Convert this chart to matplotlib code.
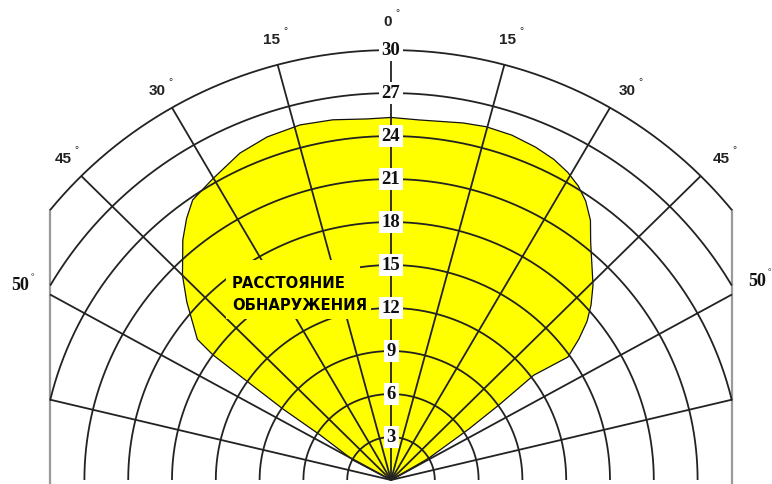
import numpy as np
import matplotlib
matplotlib.use("Agg")
import matplotlib.pyplot as plt
from matplotlib.patches import Polygon, Rectangle

# ---- data ----
ring_values = [3, 6, 9, 12, 15, 18, 21, 24, 27, 30]
ring_labels = ["3", "6", "9", "12", "15", "18", "21", "24", "27", "30"]
spoke_angles = [-76.5, -61, -45, -30, -15, 0, 15, 30, 45, 61, 76.5]
angle_labels = ["0", "15", "30", "45", "15", "30", "45"]
side_labels = ["50", "50"]
caption_lines = ["РАССТОЯНИЕ", "ОБНАРУЖЕНИЯ"]

# detection zone boundary (angle from axis in degrees, range)
zone_angle = [0, -62, -57.1, -56.2, -55.1, -54.4, -53.5, -48.4, -45.0, -40.4,
              -37.5, -34.8, -30.2, -24.4, -19.5, -14.1, -9.0, -3.7, 0.0, 4.4,
              11.2, 14.8, 19.0, 23.1, 26.5, 29.4, 32.0, 34.4, 37.0, 39.5,
              45.5, 48.3, 50.5, 52.6, 54.7, 53.2, 54.7, 56.3, 59.5]
zone_range = [0, 2.9, 5.8, 8.9, 11.9, 15.0, 16.5, 18.7, 20.2, 22.0,
              23.0, 23.8, 24.3, 25.05, 25.4, 25.55, 25.45, 25.25, 25.3, 25.2,
              25.4, 25.5, 25.45, 25.25, 25.0, 24.65, 24.2, 23.6, 22.7, 21.5,
              19.4, 18.35, 17.4, 16.2, 14.85, 12.2, 9.05, 6.4, 3.0]

# ---- geometry of the drawing ----
XS, YS = 14.6, 14.33          # pixels per unit
OX, OY = 391, 480             # origin in pixels
XB = 341 / XS                 # side border
R_MAX = 30

def px(x, y):
    return (x - OX) / XS, (OY - y) / YS

fig = plt.figure(figsize=(7.72, 4.84), dpi=100)
ax = fig.add_axes([0, 0, 1, 1])
ax.set_xlim(-OX / XS, (772 - OX) / XS)
ax.set_ylim(-(484 - OY) / YS, OY / YS)
ax.axis("off")

line_kw = dict(color="#222222", lw=1.3, zorder=3, solid_capstyle="butt")

# yellow zone
th = np.radians(zone_angle)
zr = np.array(zone_range)
poly = Polygon(np.column_stack([zr * np.sin(th), zr * np.cos(th)]), closed=True,
               facecolor="#FFFF00", edgecolor="#111111", lw=0.9, zorder=1,
               joinstyle="round")
ax.add_patch(poly)

# rings
t = np.radians(np.linspace(-90, 90, 1200))
for r in ring_values:
    x = r * np.sin(t)
    y = r * np.cos(t)
    x = np.where(np.abs(x) <= XB, x, np.nan)
    ax.plot(x, y, **line_kw)

# spokes
for a in spoke_angles:
    ar = np.radians(a)
    rend = R_MAX if abs(np.sin(ar)) < 1e-9 else min(R_MAX, XB / abs(np.sin(ar)))
    ax.plot([0, rend * np.sin(ar)], [0, rend * np.cos(ar)], **line_kw)

# side borders
ytop = np.sqrt(R_MAX ** 2 - XB ** 2)
for s in (-1, 1):
    ax.plot([s * XB, s * XB], [-1, ytop], color="#9a9a9a", lw=1.6, zorder=2)

# ring labels on the axis
for r, lab in zip(ring_values, ring_labels):
    ax.text(0, r, lab, ha="center", va="center", fontsize=13.5,
            family="Liberation Serif", weight="bold", color="#111111", zorder=6,
            bbox=dict(boxstyle="square,pad=0.15", fc="white", ec="none"))

# angle labels
ang_pos = [(388, 22), (272, 40), (157, 91), (63, 159), (508, 40), (627, 91), (721, 159)]
for (xp, yp), lab in zip(ang_pos, angle_labels):
    x, y = px(xp, yp)
    ax.text(x, y, lab, ha="center", va="center", fontsize=11,
            family="Liberation Sans", weight="bold", color="#222222", zorder=6)
    w = len(lab) * 4.3
    dx, dy = px(xp + w + 5, yp - 9)
    ax.text(dx, dy, "°", ha="center", va="center", fontsize=7.5,
            family="Liberation Sans", color="#222222", zorder=6)

for (xp, yp), lab in zip([(20, 286), (757, 281)], side_labels):
    x, y = px(xp, yp)
    ax.text(x, y, lab, ha="center", va="center", fontsize=13,
            family="Liberation Serif", weight="bold", color="#111111", zorder=6)
    dx, dy = px(xp + 12.5, yp - 9)
    ax.text(dx, dy, "°", ha="center", va="center", fontsize=6.5,
            family="Liberation Serif", color="#111111", zorder=6)

# caption with yellow background
for (x0, y0, x1, y1) in [(226, 260, 360, 294), (226, 294, 371, 319)]:
    a0, b0 = px(x0, y1)
    a1, b1 = px(x1, y0)
    ax.add_patch(Rectangle((a0, b0), a1 - a0, b1 - b0, facecolor="#FFFF00",
                           edgecolor="none", zorder=4))
for (xp, yp), lab in zip([(232, 283), (232, 306)], caption_lines):
    x, y = px(xp, yp)
    ax.text(x, y, lab, ha="left", va="center", fontsize=10.7,
            family="DejaVu Sans", weight="bold", color="black", zorder=6)

fig.savefig("out.png", dpi=100, facecolor="white")
